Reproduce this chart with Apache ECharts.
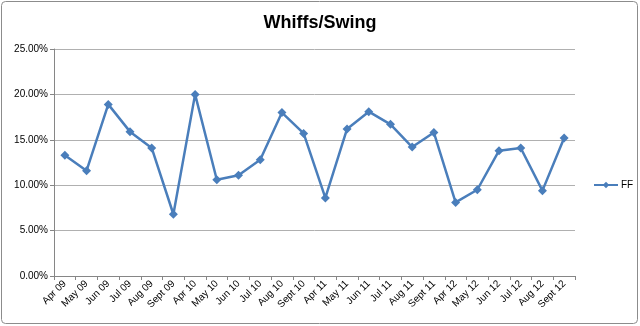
<!DOCTYPE html>
<html><head><meta charset="utf-8">
<script src="https://cdn.jsdelivr.net/npm/echarts@6/dist/echarts.min.js"></script>
<style>html,body{margin:0;padding:0;background:#fff}#c{width:640px;height:326px}</style>
</head><body><div id="c"></div>
<script>
const categories = ["Apr 09","May 09","Jun 09","Jul 09","Aug 09","Sept 09","Apr 10","May 10","Jun 10","Jul 10","Aug 10","Sept 10","Apr 11","May 11","Jun 11","Jul 11","Aug 11","Sept 11","Apr 12","May 12","Jun 12","Jul 12","Aug 12","Sept 12"];
const ffValues = [0.133,0.116,0.189,0.159,0.141,0.068,0.200,0.106,0.111,0.128,0.180,0.157,0.086,0.162,0.181,0.167,0.142,0.158,0.081,0.095,0.138,0.141,0.094,0.152];
const seriesName = "FF";
const titleText = "Whiffs/Swing";
const chart = echarts.init(document.getElementById('c'));
chart.setOption({
  animation: false,
  graphic: [{type:'rect', shape:{x:1.5,y:1.5,width:636,height:322,r:4}, style:{fill:'none', stroke:'#8c8c8c', lineWidth:1}}],
  title: {text: titleText, left: 'center', top: 9, textStyle:{fontFamily:'Liberation Sans', fontSize:18, fontWeight:'bold', color:'#000'}},
  legend: {data:[seriesName], orient:'vertical', left: 588, top: 175, itemWidth: 24, itemHeight: 8, itemGap: 4,
    textStyle:{fontFamily:'Liberation Sans', fontSize:10, color:'#000', padding:[0,0,0,-2]}},
  grid: {left: 54, right: 65, top: 49, bottom: 50, containLabel: false},
  xAxis: {type:'category', data: categories, boundaryGap: true,
    axisLine:{lineStyle:{color:'#868686'}}, axisTick:{show:true, alignWithLabel:false, length:4, lineStyle:{color:'#868686'}},
    axisLabel:{rotate:45, interval:0, fontFamily:'Liberation Sans', fontSize:10, color:'#000', margin:6}},
  yAxis: {type:'value', min:0, max:0.25, interval:0.05,
    axisLine:{show:true, lineStyle:{color:'#868686'}}, axisTick:{show:true, length:4, lineStyle:{color:'#868686'}},
    splitLine:{lineStyle:{color:'#b0b0b0'}},
    axisLabel:{formatter: v => (v*100).toFixed(2)+'%', fontFamily:'Liberation Sans', fontSize:10, color:'#000', margin:6}},
  series: [{name: seriesName, type:'line', data: ffValues, symbol:'diamond', symbolSize:9,
    lineStyle:{color:'#4a7ebb', width:2.5}, itemStyle:{color:'#4a7ebb'}}]
});
</script></body></html>
